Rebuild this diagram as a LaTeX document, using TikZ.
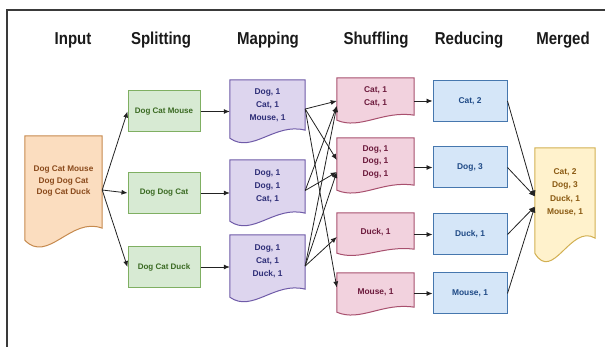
\documentclass[tikz,border=0pt]{standalone}
\usepackage{fontspec}
\setmainfont{Liberation Sans}
\usetikzlibrary{arrows.meta,calc}
\definecolor{frameC}{HTML}{3A3A3A}
\definecolor{hdrC}{HTML}{1A1A1A}
\definecolor{arrC}{HTML}{222222}
\definecolor{inF}{HTML}{FBDDBF}
\definecolor{inD}{HTML}{C68A4E}
\definecolor{inT}{HTML}{8A4A1C}
\definecolor{grF}{HTML}{D7EAD3}
\definecolor{grD}{HTML}{7FAF62}
\definecolor{grT}{HTML}{3A6A22}
\definecolor{puF}{HTML}{DDD5EE}
\definecolor{puD}{HTML}{6F5BA8}
\definecolor{puT}{HTML}{2E2E78}
\definecolor{piF}{HTML}{F2D2DE}
\definecolor{piD}{HTML}{A8506E}
\definecolor{piT}{HTML}{6C1A3C}
\definecolor{blF}{HTML}{D5E6F8}
\definecolor{blD}{HTML}{4677AE}
\definecolor{blT}{HTML}{1F4A86}
\definecolor{yeF}{HTML}{FFF2CC}
\definecolor{yeD}{HTML}{D2B052}
\definecolor{yeT}{HTML}{8A5A12}
\newcommand\docshape[7]{%
  \node[inner sep=0pt, minimum width=#4, minimum height=#5] (#1) at (#2,#3) {};
  \path[#7] (#1.north west) -- (#1.north east) -- ($(#1.south east)+(0,-#6)$)
    .. controls ($(#1.south west)+(0.6*#4,-2*#6)$) and ($(#1.south west)+(0.3*#4,2*#6)$) .. (#1.south west) -- cycle;
}
\tikzset{
  frame/.style={draw=frameC, line width=1.4pt},
  hdr/.style={font=\fontsize{15}{18}\selectfont\bfseries, text=hdrC, inner sep=0pt, yscale=1.15, transform shape},
  txt/.style={font=\fontsize{8.4}{12.8}\selectfont\bfseries, align=center, inner sep=0pt},
  indoc/.style={fill=inF, draw=inD, line width=1pt},
  pudoc/.style={fill=puF, draw=puD, line width=1pt},
  pidoc/.style={fill=piF, draw=piD, line width=1pt},
  yedoc/.style={fill=yeF, draw=yeD, line width=1pt},
  sbox/.style={txt, font=\fontsize{8}{12}\selectfont\bfseries, draw=grD, fill=grF, line width=1pt, minimum width=72, minimum height=41, text=grT},
  rbox/.style={txt, draw=blD, fill=blF, line width=1pt, minimum width=74, minimum height=41, text=blT},
  conn/.style={draw=arrC, line width=0.8pt, -{Latex[length=6pt,width=5pt]}},
}
\begin{document}
\begin{tikzpicture}[x=1pt, y=-1pt]
\useasboundingbox (0,0) rectangle (605,347);
\draw[frame] (7,347) -- (7,10) -- (605,10);

% headers
\node[hdr] (h1) at (73,40) {Input};
\node[hdr] (h2) at (161,40) {Splitting};
\node[hdr] (h3) at (268,40) {Mapping};
\node[hdr] (h4) at (376,40) {Shuffling};
\node[hdr] (h5) at (469,40) {Reducing};
\node[hdr] (h6) at (563,40) {Merged};

% input
\docshape{in}{63.5}{188}{77}{104}{12}{indoc}
\node[txt, text=inT, font=\fontsize{8.2}{11.5}\selectfont\bfseries] (int) at (63.5,181.5) {Dog Cat Mouse\\Dog Dog Cat\\Dog Cat Duck};

% splitting
\node[sbox] (s1) at (164,111.5) {Dog Cat Mouse};
\node[sbox] (s2) at (164,193) {Dog Dog Cat};
\node[sbox] (s3) at (164,267) {Dog Cat Duck};

% mapping
\docshape{m1}{267.5}{109}{75}{58}{8}{pudoc}
\node[txt, text=puT] (m1t) at (267.5,105) {Dog, 1\\Cat, 1\\Mouse, 1};
\docshape{m2}{267.5}{190.5}{75}{61}{8}{pudoc}
\node[txt, text=puT] (m2t) at (267.5,186) {Dog, 1\\Dog, 1\\Cat, 1};
\docshape{m3}{267.5}{266}{75}{62}{8}{pudoc}
\node[txt, text=puT] (m3t) at (267.5,261) {Dog, 1\\Cat, 1\\Duck, 1};

% shuffling
\docshape{sc}{375.5}{99}{77}{42}{5}{pidoc}
\node[txt, text=piT] (sct) at (375.5,96.5) {Cat, 1\\Cat, 1};
\docshape{sd}{375.5}{164}{77}{52}{5}{pidoc}
\node[txt, text=piT] (sdt) at (375.5,162) {Dog, 1\\Dog, 1\\Dog, 1};
\docshape{sk}{375.5}{233}{77}{40}{4}{pidoc}
\node[txt, text=piT] (skt) at (375.5,232) {Duck, 1};
\docshape{sm}{375.5}{292.5}{77}{39}{5}{pidoc}
\node[txt, text=piT] (smt) at (375.5,292) {Mouse, 1};

% reducing
\node[rbox] (rc) at (470,101) {Cat, 2};
\node[rbox] (rd) at (470,167.5) {Dog, 3};
\node[rbox] (rk) at (470,234.5) {Duck, 1};
\node[rbox] (rm) at (470,293.5) {Mouse, 1};

% merged
\docshape{mg}{565}{200.5}{60}{105}{15}{yedoc}
\node[txt, text=yeT, font=\fontsize{8.4}{13.5}\selectfont\bfseries] (mgt) at (565,192) {Cat, 2\\Dog, 3\\Duck, 1\\Mouse, 1};

% connectors: input -> splitting
\coordinate (inR) at ($(in.east)+(0,2)$);
\draw[conn] (inR) -- (s1.west);
\draw[conn] (inR) -- (s2.west);
\draw[conn] (inR) -- (s3.west);

% splitting -> mapping
\draw[conn] (s1.east) -- (s1.east -| m1.west);
\draw[conn] (s2.east) -- (s2.east -| m2.west);
\draw[conn] (s3.east) -- (s3.east -| m3.west);

% mapping -> shuffling
\draw[conn] (m1.east) -- ($(sc.west)+(0,2)$);
\draw[conn] (m1.east) -- ($(sd.west)+(0,-4)$);
\draw[conn] (m1.east) -- ($(sm.west)+(0,-5)$);
\draw[conn] (m2.east) -- ($(sc.west)+(0,7)$);
\draw[conn] (m2.east) -- ($(sd.west)+(0,8)$);
\draw[conn] (m3.east) -- ($(sc.west)+(0,7)$);
\draw[conn] (m3.east) -- ($(sd.west)+(0,8)$);
\draw[conn] (m3.east) -- ($(sk.west)+(0,4)$);

% shuffling -> reducing
\draw[conn] (rc.west -| sc.east) -- (rc.west);
\draw[conn] (rd.west -| sd.east) -- (rd.west);
\draw[conn] (rk.west -| sk.east) -- (rk.west);
\draw[conn] (rm.west -| sm.east) -- (rm.west);

% reducing -> merged
\draw[conn] (rc.east) -- ($(mg.west)+(0,-4)$);
\draw[conn] (rd.east) -- ($(mg.west)+(0,-4)$);
\draw[conn] (rk.east) -- ($(mg.west)+(0,6)$);
\draw[conn] (rm.east) -- ($(mg.west)+(0,6)$);
\end{tikzpicture}
\end{document}
